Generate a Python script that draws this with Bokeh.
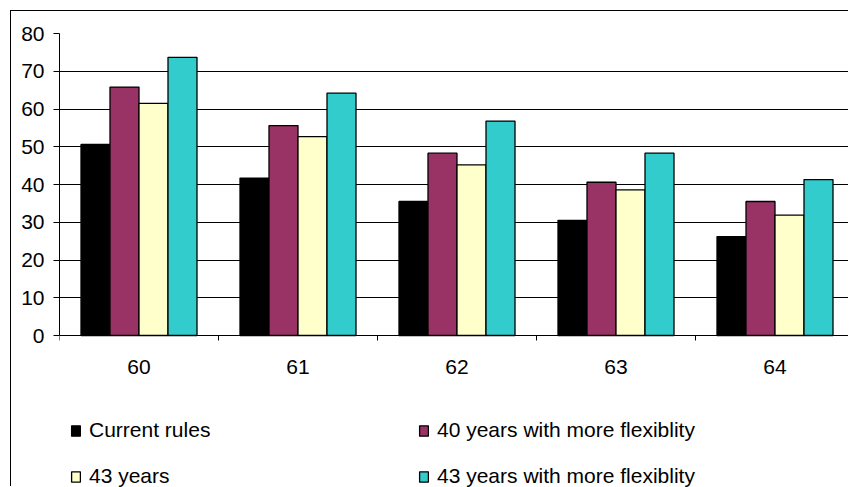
from bokeh.plotting import figure
from bokeh.models import Range1d, FixedTicker, Legend, LegendItem
from bokeh.embed import file_html
from bokeh.resources import INLINE

# Retirement age categories and the four scenario series
ages = ["60", "61", "62", "63", "64"]
current_rules = [50.6, 41.7, 35.5, 30.5, 26.2]
years40_flex = [65.8, 55.6, 48.3, 40.6, 35.5]
years43 = [61.5, 52.7, 45.2, 38.6, 31.9]
years43_flex = [73.7, 64.2, 56.8, 48.3, 41.3]

series = [
    ("Current rules", current_rules, "#000000"),
    ("40 years with more flexiblity", years40_flex, "#993366"),
    ("43 years", years43, "#FFFFCC"),
    ("43 years with more flexiblity", years43_flex, "#33CCCC"),
]

FONT = "Liberation Sans"
OFF = 11                      # chart-area border offset (margin + border line)
W, H = 849 - OFF, 487 - OFF
left, top = 59 - OFF, 33 - OFF
cat_px = 159.0
px_per_unit = (335 - 33) / 80.0
# the frame runs down to the bottom edge so the legend area lies inside it
y_start = -(H - (335 - OFF)) / px_per_unit

p = figure(width=W, height=H, output_backend="svg", toolbar_location=None,
           x_range=Range1d(0, (W - left) / cat_px), y_range=Range1d(y_start, 80),
           min_border_left=left, min_border_top=top, min_border_bottom=0,
           min_border_right=0)
p.styles = {"margin-left": "10px", "margin-top": "10px",
            "border-left": "1px solid black", "border-top": "1px solid black"}
p.outline_line_color = None
p.background_fill_color = "white"
p.border_fill_color = "white"

# grouped bars: four per category, centred in each category slot
bar_w = 0.1824
offsets = [-1.5 * bar_w, -0.5 * bar_w, 0.5 * bar_w, 1.5 * bar_w]
items = []
for (name, vals, col), off in zip(series, offsets):
    xs = [i + 0.5 + off for i in range(len(ages))]
    r = p.vbar(x=xs, top=vals, width=bar_w, bottom=0, fill_color=col,
               line_color="black", line_width=1.3)
    items.append(LegendItem(label=name, renderers=[r]))

# y axis
p.yaxis.ticker = FixedTicker(ticks=list(range(0, 81, 10)))
p.yaxis.bounds = (0, 80)
p.yaxis.major_tick_out = 6
p.yaxis.major_tick_in = 0
p.yaxis.minor_tick_out = 0
p.yaxis.minor_tick_in = 0
p.yaxis.major_label_standoff = 9
p.yaxis.axis_line_color = "black"
p.yaxis.major_tick_line_color = "black"
p.yaxis.major_label_text_font = FONT
p.yaxis.major_label_text_font_size = "21px"
p.yaxis.major_label_text_color = "black"

# x axis sits on the zero line: labels at category centres,
# tick marks on category boundaries
centers = [i + 0.5 for i in range(len(ages))]
p.xaxis.fixed_location = 0
p.xaxis.ticker = FixedTicker(ticks=centers, minor_ticks=list(range(len(ages) + 1)))
p.xaxis.major_label_overrides = {c: a for c, a in zip(centers, ages)}
p.xaxis.major_tick_out = 0
p.xaxis.major_tick_in = 0
p.xaxis.minor_tick_out = 5
p.xaxis.minor_tick_in = 0
p.xaxis.minor_tick_line_color = "black"
p.xaxis.major_label_standoff = 19
p.xaxis.axis_line_color = "black"
p.xaxis.major_label_text_font = FONT
p.xaxis.major_label_text_font_size = "21px"
p.xaxis.major_label_text_color = "black"

p.xgrid.grid_line_color = None
p.ygrid.grid_line_color = "black"
p.ygrid.grid_line_width = 1

# two-column legend (columns fill top to bottom)
legend_items = [items[0], items[2], items[1], items[3]]
legend = Legend(items=legend_items, ncols=2, location=(70 - 59, -1),
                glyph_width=11, glyph_height=13, label_standoff=8,
                spacing=22, label_width=307, padding=0, margin=0,
                border_line_color=None, background_fill_alpha=0,
                label_text_font=FONT, label_text_font_size="21px",
                label_text_color="black")
p.add_layout(legend, "center")

open("out.html", "w").write(file_html(p, INLINE))
